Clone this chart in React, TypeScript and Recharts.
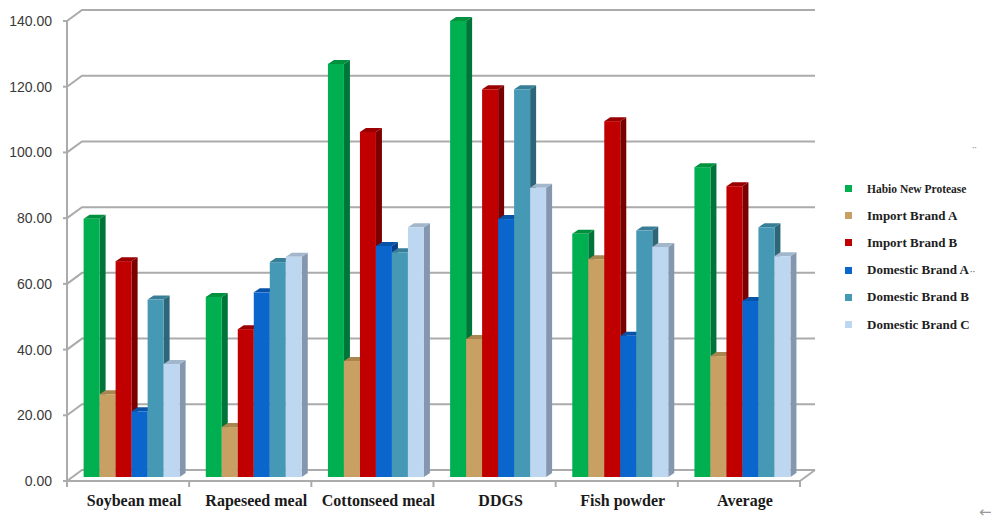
import React from 'react';
import { BarChart, Bar, XAxis, YAxis, CartesianGrid, Legend } from 'recharts';

// Feed ingredients compared
const CATEGORIES = ['Soybean meal', 'Rapeseed meal', 'Cottonseed meal', 'DDGS', 'Fish powder', 'Average'];

// Values per product, one entry per ingredient
const HABIO = [78.6, 54.8, 125.7, 138.8, 74.0, 94.3];
const IMPORT_A = [25.2, 15.2, 35.3, 42.0, 66.3, 36.8];
const IMPORT_B = [65.7, 45.0, 105.0, 118.0, 108.3, 88.5];
const DOMESTIC_A = [20.0, 56.2, 70.3, 78.5, 43.0, 53.6];
const DOMESTIC_B = [54.0, 65.4, 68.4, 118.0, 75.0, 76.0];
const DOMESTIC_C = [34.4, 67.0, 76.0, 88.0, 70.0, 67.2];

const Y_TICKS = [0, 20, 40, 60, 80, 100, 120, 140];

const SERIES = [
  { key: 'habio', name: 'Habio New Protease', values: HABIO, front: '#00B050', side: '#00753A', top: '#00913F' },
  { key: 'importA', name: 'Import Brand A', values: IMPORT_A, front: '#C9A063', side: '#8C6C3E', top: '#A98550' },
  { key: 'importB', name: 'Import Brand B', values: IMPORT_B, front: '#C00000', side: '#7A0000', top: '#9A0000' },
  { key: 'domesticA', name: 'Domestic Brand A', values: DOMESTIC_A, front: '#0A66CC', side: '#05418A', top: '#0852A8' },
  { key: 'domesticB', name: 'Domestic Brand B', values: DOMESTIC_B, front: '#4699B5', side: '#2D6679', top: '#377E96' },
  { key: 'domesticC', name: 'Domestic Brand C', values: DOMESTIC_C, front: '#BDD7F0', side: '#8497AE', top: '#A3B7CC' },
];

const rows = CATEGORIES.map((name, i) => {
  const row: Record<string, string | number> = { name };
  SERIES.forEach((s) => {
    row[s.key] = s.values[i];
  });
  return row;
});

// 3D look: wall depth and bar depth offsets
const WALL_DX = 15;
const WALL_DY = -11;
const BAR_SHIFT_X = 5;
const BAR_SHIFT_Y = -4;
const BAR_DEPTH_X = 6;
const BAR_DEPTH_Y = -4;

const W = 991;
const H = 531;
const MARGIN = { top: 21, right: 191, bottom: 0, left: 0 };
const Y_AXIS_W = 67;
const PLOT_W = W - MARGIN.left - MARGIN.right - Y_AXIS_W;
const BAND = PLOT_W / CATEGORIES.length;

const GRID_COLOR = '#ABABAB';
const SERIF = '"Liberation Serif", "Times New Roman", serif';

const makeShape = (front: string, side: string, top: string) => (props: any) => {
  const { x, y, width, height } = props;
  if (width == null || height == null || height <= 0) return <g />;
  const fx = x + BAR_SHIFT_X;
  const fy = y + BAR_SHIFT_Y;
  const r = fx + width;
  const b = fy + height;
  return (
    <g>
      <polygon
        points={`${r},${fy} ${r + BAR_DEPTH_X},${fy + BAR_DEPTH_Y} ${r + BAR_DEPTH_X},${b + BAR_DEPTH_Y} ${r},${b}`}
        fill={side}
      />
      <polygon
        points={`${fx},${fy} ${fx + BAR_DEPTH_X},${fy + BAR_DEPTH_Y} ${r + BAR_DEPTH_X},${fy + BAR_DEPTH_Y} ${r},${fy}`}
        fill={top}
      />
      <rect x={fx} y={fy} width={width} height={height} fill={front} />
    </g>
  );
};

// Back-wall gridline with its slanted link to the front axis
const GridLine = (props: any) => {
  const { x1, x2, y1, index } = props;
  const isFloor = Math.abs(y1 - (H - 50)) < 1;
  return (
    <g key={`grid-${index}`}>
      <polyline
        points={`${x1},${y1} ${x1 + WALL_DX},${y1 + WALL_DY} ${x2 + WALL_DX},${y1 + WALL_DY}`}
        fill="none"
        stroke={GRID_COLOR}
        strokeWidth={2}
      />
      {isFloor && (
        <line x1={x2} y1={y1} x2={x2 + WALL_DX} y2={y1 + WALL_DY} stroke={GRID_COLOR} strokeWidth={2} />
      )}
    </g>
  );
};

const CategoryTick = (props: any) => {
  const { x, y, payload, index } = props;
  const left = x - BAND / 2;
  const isLast = index === CATEGORIES.length - 1;
  const axisY = y - 8;
  return (
    <g>
      <line x1={left} y1={axisY} x2={left} y2={axisY + 6} stroke={GRID_COLOR} strokeWidth={2} />
      {isLast && <line x1={x + BAND / 2} y1={axisY} x2={x + BAND / 2} y2={axisY + 6} stroke={GRID_COLOR} strokeWidth={2} />}
      <text
        x={x + BAR_SHIFT_X + 1}
        y={axisY + 25}
        textAnchor="middle"
        fontFamily={SERIF}
        fontWeight="bold"
        fontSize={16}
        fill="#1A1A1A"
      >
        {payload.value}
      </text>
    </g>
  );
};

// Legend listed in series order
const LegendContent = () => (
  <div style={{ display: 'flex', flexDirection: 'column' }}>
    {SERIES.map((s, i) => (
      <div key={s.key} style={{ height: 27.2, display: 'flex', alignItems: 'center' }}>
        <span style={{ width: 7, height: 7, background: s.front, display: 'inline-block', marginRight: 15 }} />
        <span
          style={{
            fontFamily: SERIF,
            fontWeight: 'bold',
            fontSize: i === 0 ? 11.5 : 13,
            color: '#1E1E1E',
            whiteSpace: 'nowrap',
          }}
        >
          {s.name}
          {s.key === 'domesticA' && <span style={{ fontSize: 8, color: '#777', marginLeft: 1 }}>··</span>}
        </span>
      </div>
    ))}
  </div>
);

export default function App() {
  return (
    <div style={{ position: 'absolute', left: 0, top: 0, width: W, height: H, background: '#fff' }}>
      <BarChart width={W} height={H} data={rows} margin={MARGIN} barCategoryGap="9.5%" barGap={0}>
        <CartesianGrid vertical={false} horizontal={GridLine} />
        <XAxis
          dataKey="name"
          height={50}
          axisLine={{ stroke: GRID_COLOR, strokeWidth: 2 }}
          tickLine={false}
          interval={0}
          tick={CategoryTick}
        />
        <YAxis
          width={Y_AXIS_W}
          domain={[0, 140]}
          ticks={Y_TICKS}
          interval={0}
          tickFormatter={(v: number) => v.toFixed(2)}
          axisLine={{ stroke: GRID_COLOR, strokeWidth: 2 }}
          tickLine={{ stroke: GRID_COLOR, strokeWidth: 2 }}
          tickSize={4}
          tickMargin={11}
          tick={{ fontFamily: '"Liberation Sans", Arial, sans-serif', fontSize: 14, fill: '#3A3A3A' }}
        />
        <Legend
          layout="vertical"
          align="center"
          verticalAlign="middle"
          content={LegendContent}
          wrapperStyle={{ position: 'absolute', left: 845, top: 175, width: 146 }}
        />
        {SERIES.map((s) => (
          <Bar
            key={s.key}
            dataKey={s.key}
            name={s.name}
            fill={s.front}
            isAnimationActive={false}
            shape={makeShape(s.front, s.side, s.top)}
          />
        ))}
      </BarChart>
      <div style={{ position: 'absolute', left: 972, top: 138, fontSize: 9, color: '#888', fontFamily: SERIF }}>‥</div>
      <div style={{ position: 'absolute', left: 979, top: 503, fontSize: 15, color: '#999', fontFamily: '"DejaVu Sans", sans-serif' }}>←</div>
    </div>
  );
}
